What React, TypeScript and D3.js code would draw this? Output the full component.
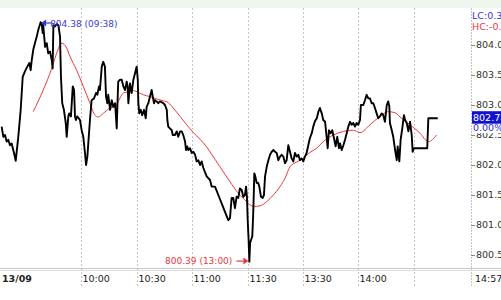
import React from 'react';
import * as d3 from 'd3';

// trading minutes from 09:30 (afternoon session continues after 11:30 = 120)
const priceMinutes = [
  -13.1, -12.2, -11.3, -10.4, -9.5, -8.6, -7.7, -6.4, -5.5, -4.1, -2.8, -1.7, -0.5, 0.8, 1.9, 2.6, 3.2, 4.0, 4.9, 5.9,
  6.7, 8.0, 8.6, 9.1, 9.4, 10.4, 11.3, 12.1, 13.1, 14.0, 14.5, 14.9, 15.8, 16.7, 17.6, 18.5, 19.0, 19.7, 20.6, 21.6,
  22.1, 23.0, 23.5, 24.4, 25.4, 26.1, 26.6, 27.1, 27.8, 29.3, 30.2, 31.1, 32.0, 32.6, 33.3, 33.8, 34.7, 35.6, 36.9, 38.0,
  38.7, 39.6, 40.1, 41.1, 41.9, 42.8, 43.4, 44.1, 44.6, 45.6, 46.5, 47.3, 48.3, 49.2, 49.5, 50.0, 51.0, 51.9, 52.8, 53.7,
  54.6, 55.1, 55.5, 56.4, 57.3, 58.2, 59.1, 60.0, 60.6, 60.9, 61.4, 62.2, 63.0, 64.0, 64.9, 65.4, 66.3, 67.2, 68.1, 68.7,
  69.4, 69.9, 70.8, 71.7, 72.6, 74.4, 75.3, 76.3, 76.6, 77.1, 78.0, 79.0, 79.5, 80.7, 81.7, 82.5, 83.5, 84.4, 85.2, 86.2,
  86.7, 87.4, 87.9, 88.9, 89.8, 90.7, 91.6, 92.5, 93.4, 94.3, 95.2, 96.1, 97.9, 99.7, 100.6, 102.4, 104.2, 106.0, 107.8, 109.6,
  110.5, 111.4, 112.3, 113.2, 114.1, 115.0, 115.9, 116.9, 117.7, 118.6, 119.2, 119.7, 120.1, 120.6, 121.0, 121.4, 121.9, 122.6, 123.1, 123.7,
  124.2, 125.0, 125.8, 126.4, 127.3, 128.2, 128.9, 129.5, 130.4, 131.3, 132.2, 133.1, 134.0, 134.9, 135.8, 136.7, 137.6, 138.5, 139.4, 140.3,
  141.2, 142.1, 143.0, 143.9, 144.8, 145.7, 146.6, 147.5, 148.4, 149.3, 150.2, 151.1, 152.0, 152.9, 153.8, 154.8, 155.6, 156.5, 157.5, 158.3,
  159.2, 160.2, 161.0, 162.0, 162.9, 163.4, 164.1, 165.0, 165.9, 166.8, 167.7, 168.6, 169.5, 170.1, 171.0, 171.9, 172.8, 173.7, 174.6, 175.5,
  176.4, 177.3, 178.2, 179.1, 180.0, 180.9, 181.4, 182.7, 183.6, 184.5, 185.4, 186.3, 187.2, 188.1, 189.0, 189.9, 190.8, 191.7, 192.6, 193.5,
  194.4, 195.4, 196.2, 196.8, 197.1, 198.1, 198.9, 199.9, 200.8, 201.3, 202.2, 202.9, 203.8, 204.7, 205.3, 206.2, 207.1, 208.0, 208.9, 209.4,
  210.1, 217.3, 217.9, 223.0,
];
const priceValues = [
  802.64, 802.47, 802.50, 802.39, 802.42, 802.33, 802.36, 802.20, 802.07, 802.47, 802.92, 803.47, 803.56, 803.64, 803.70, 803.58, 803.75, 803.92, 804.03, 804.14,
  804.25, 804.38, 804.35, 804.20, 804.33, 803.97, 804.03, 803.86, 803.89, 803.75, 803.61, 804.33, 804.31, 804.35, 804.33, 804.14, 803.47, 803.03, 802.92, 802.70,
  802.47, 802.81, 802.86, 802.81, 803.31, 803.25, 802.81, 802.75, 802.81, 802.75, 802.58, 802.47, 802.20, 802.00, 802.14, 802.36, 802.75, 803.08, 803.11, 803.20,
  803.17, 803.31, 803.25, 803.64, 803.72, 803.64, 803.14, 803.03, 803.17, 802.92, 803.08, 802.97, 803.03, 802.61, 802.92, 803.39, 803.42, 803.42, 803.31, 803.25,
  803.39, 803.31, 803.03, 803.36, 803.20, 803.42, 803.53, 803.64, 803.42, 803.03, 802.86, 802.92, 802.83, 802.92, 802.78, 802.97, 803.03, 803.14, 803.25, 803.14,
  803.03, 803.08, 803.06, 803.03, 803.06, 803.03, 803.00, 802.92, 802.75, 802.64, 802.61, 802.58, 802.50, 802.50, 802.56, 802.47, 802.56, 802.56, 802.50, 802.39,
  802.25, 802.31, 802.25, 802.28, 802.20, 802.22, 802.17, 802.06, 802.08, 802.00, 802.06, 801.95, 801.81, 801.75, 801.64, 801.64, 801.50, 801.36, 801.22, 801.08,
  801.11, 801.45, 801.45, 801.28, 801.47, 801.45, 801.61, 801.58, 801.47, 801.50, 801.64, 801.47, 801.08, 800.75, 800.39, 800.70, 800.75, 800.81, 801.20, 801.86,
  801.81, 801.70, 801.70, 801.64, 801.47, 801.45, 801.50, 801.81, 801.97, 802.08, 802.17, 802.22, 802.25, 802.22, 802.20, 802.08, 802.14, 802.17, 802.14, 802.03,
  802.08, 802.33, 802.22, 802.11, 802.06, 802.20, 802.14, 802.17, 802.08, 802.11, 802.06, 802.14, 802.20, 802.33, 802.45, 802.53, 802.64, 802.73, 802.78, 802.88,
  802.95, 802.86, 802.75, 802.72, 802.45, 802.28, 802.58, 802.53, 802.58, 802.45, 802.31, 802.47, 802.28, 802.36, 802.25, 802.33, 802.42, 802.53, 802.64, 802.72,
  802.67, 802.70, 802.64, 802.70, 802.67, 802.75, 803.00, 803.00, 803.08, 803.17, 803.11, 803.11, 803.03, 803.03, 802.95, 802.86, 802.78, 802.81, 802.86, 802.83,
  802.72, 803.00, 803.06, 802.97, 802.70, 802.58, 802.47, 802.25, 802.08, 802.31, 802.06, 802.42, 802.61, 802.83, 802.75, 802.70, 802.56, 802.72, 802.50, 802.22,
  802.28, 802.28, 802.78, 802.78,
];

const maMinutes = [
  4.0, 9.4, 14.0, 16.3, 19.4, 22.1, 23.9, 27.5, 31.1, 34.7, 37.4, 39.2, 41.9, 45.6, 48.3, 50.0, 52.8, 55.5, 58.2, 60.9,
  63.6, 67.2, 70.8, 74.4, 77.1, 79.8, 83.5, 87.1, 90.7, 94.3, 97.9, 99.7, 105.1, 110.5, 115.0, 119.6, 123.1, 126.8, 130.4, 134.0,
  137.6, 140.3, 143.0, 146.6, 150.2, 153.8, 157.5, 161.0, 166.5, 171.9, 177.3, 180.9, 186.3, 191.7, 196.2, 199.9, 202.6, 208.0, 213.4, 217.9,
  222.4,
];
const maValues = [
  802.89, 803.25, 803.61, 803.83, 804.03, 803.95, 803.81, 803.58, 803.31, 803.03, 802.83, 802.80, 802.86, 802.95, 802.97, 803.06, 803.20, 803.22, 803.24, 803.21,
  803.17, 803.14, 803.10, 803.07, 803.04, 802.95, 802.81, 802.67, 802.54, 802.43, 802.30, 802.22, 801.97, 801.72, 801.53, 801.39, 801.31, 801.32, 801.39, 801.50,
  801.64, 801.78, 801.97, 802.05, 802.11, 802.21, 802.28, 802.39, 802.50, 802.56, 802.58, 802.54, 802.67, 802.81, 802.89, 802.87, 802.80, 802.67, 802.53, 802.39,
  802.50,
];

const xTickMinutes = [30, 60, 90, 120, 150, 180, 210];
const xTickLabels = ['10:00', '10:30', '11:00', '11:30', '13:30', '14:00', ''];
const dateLabel = '13/09';
const endTimeLabel = '14:57';
const yTickValues = [800.5, 801.0, 801.5, 802.0, 802.5, 803.0, 803.5, 804.0];
const highLabel = '804.38 (09:38)';
const lowLabel = '800.39 (13:00)';
const lastPriceLabel = '802.78';
const changeLabel = '0.00%';
const lcLabel = 'LC:0.3';
const hcLabel = 'HC:-0.';

const W = 501;
const H = 300;
const plotRight = 471;
const plotTop = 8;
const axisY = 268;
const font = 'DejaVu Sans, Verdana, sans-serif';

export default function App() {
  const x = d3.scaleLinear().domain([-14, 241]).range([0, plotRight]);
  const y = d3.scaleLinear().domain([800.3, 804.6]).range([267, 9]);

  const priceData: [number, number][] = priceMinutes.map((m, i) => [m, priceValues[i]]);
  const maData: [number, number][] = maMinutes.map((m, i) => [m, maValues[i]]);

  const priceLine = d3.line<[number, number]>().x(d => x(d[0])).y(d => y(d[1]));
  const maLine = d3
    .line<[number, number]>()
    .x(d => x(d[0]))
    .y(d => y(d[1]))
    .curve(d3.curveMonotoneX);

  const hiIdx = d3.maxIndex(priceValues);
  const loIdx = d3.minIndex(priceValues);
  const hx = x(priceMinutes[hiIdx]) + 0.5;
  const hy = y(priceValues[hiIdx]) + 0.8;
  const lx = x(priceMinutes[loIdx]) - 1;
  const ly = y(priceValues[loIdx]) - 0.5;

  const lastV = priceValues[priceValues.length - 1];
  const yl = y(lastV);

  return (
    <svg
      width={W}
      height={H}
      style={{ position: 'fixed', left: 0, top: 0, background: '#ffffff' }}
      fontFamily={font}
    >
      <rect x={0} y={0} width={W} height={H} fill="#ffffff" />
      <rect x={0} y={0} width={W} height={plotTop} fill="#eef7ee" />

      {/* vertical dotted gridlines */}
      {xTickMinutes.map((m, i) => (
        <line
          key={'g' + i}
          x1={Math.round(x(m)) + 0.5}
          x2={Math.round(x(m)) + 0.5}
          y1={plotTop}
          y2={287}
          stroke="#c4c4c4"
          strokeDasharray="2,2"
        />
      ))}
      {/* right axis line */}
      <line x1={plotRight + 0.5} x2={plotRight + 0.5} y1={plotTop} y2={287} stroke="#c4c4c4" strokeDasharray="2,1" />

      {/* bottom axis double line */}
      <line x1={0} x2={W} y1={axisY + 0.5} y2={axisY + 0.5} stroke="#c8c8c8" />
      <line x1={0} x2={W} y1={axisY + 2.5} y2={axisY + 2.5} stroke="#dcdcdc" />

      {/* moving average */}
      <path d={maLine(maData) || ''} fill="none" stroke="#ee3a3a" strokeWidth={1} />
      {/* price line */}
      <path
        d={priceLine(priceData) || ''}
        fill="none"
        stroke="#000000"
        strokeWidth={1.9}
        strokeLinejoin="round"
      />

      {/* high marker */}
      <path d={`M${hx},${hy} L${hx + 5},${hy - 3.5} L${hx + 5},${hy + 3.5} Z`} fill="#3535d6" />
      <line x1={hx + 5} x2={hx + 11} y1={hy} y2={hy} stroke="#3535d6" strokeWidth={1.2} />
      <text x={hx + 9} y={hy + 4} fontSize={9} fill="#3a3ad8">
        {highLabel}
      </text>

      {/* low marker */}
      <path d={`M${lx},${ly} L${lx - 5},${ly - 3.5} L${lx - 5},${ly + 3.5} Z`} fill="#e8383c" />
      <line x1={lx - 12} x2={lx - 5} y1={ly} y2={ly} stroke="#e8383c" strokeWidth={1.2} />
      <text x={lx - 16} y={ly + 3} fontSize={9} fill="#e8383c" textAnchor="end">
        {lowLabel}
      </text>

      {/* y tick labels */}
      {yTickValues.map((v, i) => (
        <g key={'y' + i}>
          <line x1={plotRight} x2={plotRight + 4} y1={Math.round(y(v)) + 0.5} y2={Math.round(y(v)) + 0.5} stroke="#888" />
          <text x={plotRight + 5} y={y(v)} dy="0.35em" fontSize={9.5} fill="#333">
            {d3.format('.1f')(v)}
          </text>
        </g>
      ))}

      {/* current price box */}
      <rect x={plotRight + 1} y={yl - 7} width={40} height={12.5} fill="#1212cc" />
      <text x={plotRight + 2} y={yl + 3.2} fontSize={9.5} fill="#ffffff">
        {lastPriceLabel}
      </text>
      <rect x={plotRight + 1} y={yl + 6} width={40} height={9} fill="#ffffff" />
      <text x={plotRight + 2} y={yl + 13} fontSize={9.5} fill="#2b2bd0">
        {changeLabel}
      </text>

      {/* LC / HC */}
      <text x={plotRight + 1} y={18.5} fontSize={9.5} fill="#3434d4">
        {lcLabel}
      </text>
      <text x={plotRight + 1} y={29.5} fontSize={9.5} fill="#e33a3a">
        {hcLabel}
      </text>

      {/* x labels */}
      <text x={2} y={281.5} fontSize={9.5} fontWeight="bold" fill="#222">
        {dateLabel}
      </text>
      {xTickMinutes.map((m, i) => (
        <text key={'x' + i} x={Math.round(x(m)) + 1.5} y={281.5} fontSize={9.5} fill="#222">
          {xTickLabels[i]}
        </text>
      ))}
      <text x={plotRight + 4} y={281.5} fontSize={9.5} fill="#222">
        {endTimeLabel}
      </text>
    </svg>
  );
}
